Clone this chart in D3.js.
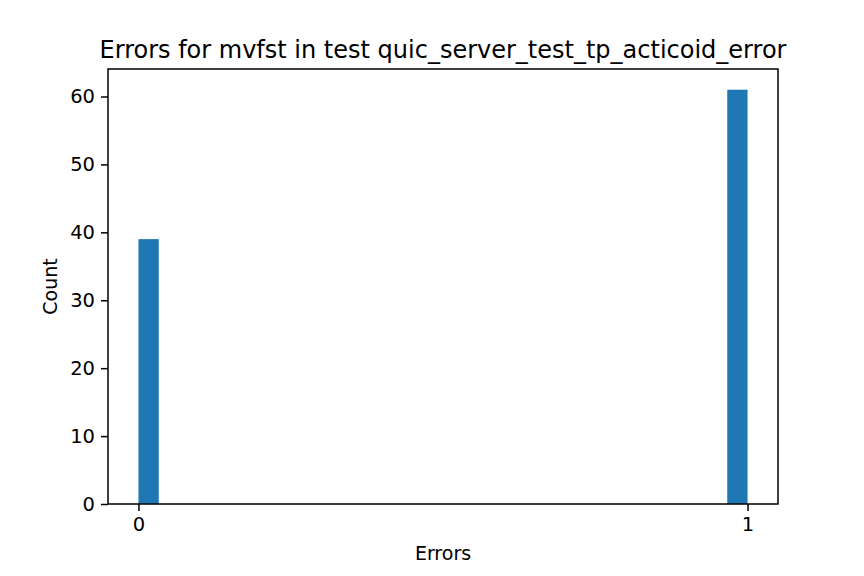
<!DOCTYPE html>
<html>
<head>
<meta charset="utf-8">
<script src="https://cdn.jsdelivr.net/npm/d3@7"></script>
<style>
  body { margin: 0; background: #fff; }
  text { font-family: "DejaVu Sans", sans-serif; fill: #000; }
</style>
</head>
<body>
<div id="chart"></div>
<script>
// Set variables
const FRAME_WIDTH = 864;
const FRAME_HEIGHT = 576;
const MARGINS = {left: 108, right: 86, top: 69, bottom: 72};
const VIS_WIDTH = FRAME_WIDTH - MARGINS.left - MARGINS.right;
const VIS_HEIGHT = FRAME_HEIGHT - MARGINS.top - MARGINS.bottom;

// histogram: 30 bins over [0, 1], only the first and last are filled
const BIN_COUNT = 30;
const BIN_LEFT = [0, 29 / 30];
const COUNTS = [39, 61];
const X_TICKS = [0, 1];
const Y_TICKS = [0, 10, 20, 30, 40, 50, 60];

const FRAME = d3.select("#chart")
  .append("svg")
    .attr("width", FRAME_WIDTH)
    .attr("height", FRAME_HEIGHT);

const X_SCALE = d3.scaleLinear()
  .domain([-0.05, 1.05])
  .range([0, VIS_WIDTH]);

const Y_SCALE = d3.scaleLinear()
  .domain([0, 61 * 1.05])
  .range([VIS_HEIGHT, 0]);

const g = FRAME.append("g")
  .attr("transform", "translate(" + MARGINS.left + "," + MARGINS.top + ")");

// bars
g.selectAll(".bar")
  .data(COUNTS)
  .enter()
  .append("rect")
    .attr("x", (d, i) => X_SCALE(BIN_LEFT[i]))
    .attr("width", (d, i) => X_SCALE(BIN_LEFT[i] + 1 / BIN_COUNT) - X_SCALE(BIN_LEFT[i]))
    .attr("y", (d) => Y_SCALE(d))
    .attr("height", (d) => VIS_HEIGHT - Y_SCALE(d))
    .attr("fill", "#1f77b4");

// axes
const xAxis = g.append("g")
  .attr("transform", "translate(0," + VIS_HEIGHT + ")")
  .call(d3.axisBottom(X_SCALE).tickValues(X_TICKS).tickFormat(d3.format("d"))
    .tickSizeInner(7).tickSizeOuter(0).tickPadding(6));

const yAxis = g.append("g")
  .call(d3.axisLeft(Y_SCALE).tickValues(Y_TICKS)
    .tickSizeInner(7).tickSizeOuter(0).tickPadding(6));

[xAxis, yAxis].forEach((a) => {
  a.select(".domain").remove();
  a.selectAll("line").attr("stroke", "#000").attr("stroke-width", 1.5);
  a.selectAll("text").attr("font-size", "19.5px").attr("font-family", "DejaVu Sans");
});

// frame
g.append("rect")
  .attr("x", 0).attr("y", 0)
  .attr("width", VIS_WIDTH).attr("height", VIS_HEIGHT)
  .attr("fill", "none").attr("stroke", "#000").attr("stroke-width", 1.5);

// labels
FRAME.append("text")
  .attr("x", MARGINS.left + VIS_WIDTH / 2)
  .attr("y", MARGINS.top - 11)
  .attr("text-anchor", "middle")
  .attr("font-size", "24px")
  .text("Errors for mvfst in test quic_server_test_tp_acticoid_error");

FRAME.append("text")
  .attr("x", MARGINS.left + VIS_WIDTH / 2)
  .attr("y", 560)
  .attr("text-anchor", "middle")
  .attr("font-size", "19px")
  .text("Errors");

FRAME.append("text")
  .attr("transform", "translate(57," + (MARGINS.top + VIS_HEIGHT / 2) + ") rotate(-90)")
  .attr("text-anchor", "middle")
  .attr("font-size", "19px")
  .text("Count");
</script>
</body>
</html>
